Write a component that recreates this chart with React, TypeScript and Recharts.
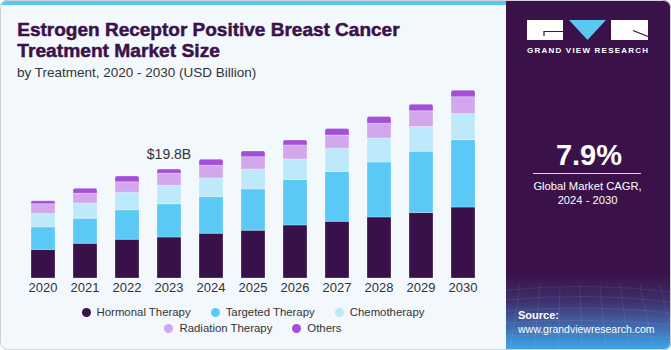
import React from 'react';
import { BarChart, Bar, XAxis, YAxis, Legend, LabelList } from 'recharts';

const years = ['2020', '2021', '2022', '2023', '2024', '2025', '2026', '2027', '2028', '2029', '2030'];
const hormonal = [5.2, 6.3, 7.05, 7.45, 8.15, 8.7, 9.65, 10.3, 11.1, 11.9, 12.9];
const targeted = [4.1, 4.55, 5.35, 6.05, 6.65, 7.5, 8.25, 9.05, 10.0, 11.15, 12.25];
const chemo = [2.45, 2.8, 3.2, 3.35, 3.4, 3.6, 3.75, 4.25, 4.35, 4.5, 4.75];
const radiation = [1.75, 1.75, 1.9, 2.2, 2.3, 2.25, 2.55, 2.4, 2.7, 2.85, 3.05];
const others = [0.55, 0.9, 1.05, 0.75, 1.1, 1.05, 0.9, 1.2, 1.2, 1.2, 1.2];
const valueLabels = ['', '', '', '$19.8B', '', '', '', '', '', '', ''];

const seriesNames = ['Hormonal Therapy', 'Targeted Therapy', 'Chemotherapy', 'Radiation Therapy', 'Others'];
const seriesKeys = ['hormonal', 'targeted', 'chemo', 'radiation', 'others'];
const colors = ['#38104a', '#5bc9f6', '#bde9fb', '#d3a7ec', '#a44fd9'];

const data = years.map((y, i) => ({
  year: y,
  hormonal: hormonal[i],
  targeted: targeted[i],
  chemo: chemo[i],
  radiation: radiation[i],
  others: others[i],
  label: valueLabels[i],
}));

const FONT = '"Liberation Sans", Arial, sans-serif';

const LegendItem = ({ idx }: { idx: number }) => (
  <span style={{ display: 'inline-flex', alignItems: 'center', margin: '0 10px' }}>
    <span
      style={{
        display: 'inline-block',
        width: 9,
        height: 9,
        borderRadius: '50%',
        background: colors[idx],
        marginRight: 6,
      }}
    />
    <span>{seriesNames[idx]}</span>
  </span>
);

const CustomLegend = () => (
  <div style={{ fontFamily: FONT, fontSize: 11.4, color: '#333', width: 506, textAlign: 'center' }}>
    <div style={{ height: 16, lineHeight: '16px', display: 'flex', justifyContent: 'center' }}>
      <LegendItem idx={0} />
      <LegendItem idx={1} />
      <LegendItem idx={2} />
    </div>
    <div style={{ height: 16, lineHeight: '16px', display: 'flex', justifyContent: 'center' }}>
      <LegendItem idx={3} />
      <LegendItem idx={4} />
    </div>
  </div>
);

export default function App() {
  return (
    <div
      style={{
        position: 'absolute',
        left: 0,
        top: 0,
        width: 671,
        height: 350,
        background: '#f3f8fc',
        borderRadius: 7,
        overflow: 'hidden',
        fontFamily: FONT,
      }}
    >
      <div style={{ position: 'absolute', left: 0, top: 0, width: 506, height: 5, background: '#5bc8f2' }} />
      <div
        style={{
          position: 'absolute',
          left: 506,
          top: 0,
          width: 165,
          height: 350,
          background:
            'linear-gradient(to bottom, #3a1249 0%, #3a1249 78%, #3d2f6c 86%, #4268aa 93%, #3aa8ea 100%)',
          borderTopRightRadius: 8,
        }}
      />
      <div style={{ position: 'absolute', left: 0, top: 0 }}>
        <BarChart width={506} height={350} data={data} margin={{ top: 80, right: 22, left: 22, bottom: 42 }}>
          <XAxis
            dataKey="year"
            axisLine={false}
            tickLine={false}
            tickSize={0}
            tickMargin={5}
            height={30}
            interval={0}
            tick={{ fill: '#333', fontSize: 13, fontFamily: FONT }}
          />
          <YAxis hide domain={[0, 36]} />
          <Legend
            layout="horizontal"
            verticalAlign="middle"
            wrapperStyle={{ top: 304, left: 0, width: 506 }}
            content={() => <CustomLegend />}
          />
          {seriesKeys.map((k, i) => (
            <Bar
              key={k}
              dataKey={k}
              name={seriesNames[i]}
              stackId="a"
              fill={colors[i]}
              barSize={24}
              stroke="#ffffff"
              strokeOpacity={0.35}
              strokeWidth={0.8}
              radius={i === 4 ? [2, 2, 0, 0] : 0}
              isAnimationActive={false}
            >
              {i === 4 ? (
                <LabelList dataKey="label" position="top" offset={10} fill="#333" fontSize={14} fontFamily={FONT} />
              ) : null}
            </Bar>
          ))}
        </BarChart>
      </div>
      <svg
        width={671}
        height={350}
        style={{ position: 'absolute', left: 0, top: 0, pointerEvents: 'none' }}
      >
        <g fontFamily={FONT}>
          <text x={17.3} y={36} fontSize={19} fontWeight={700} fill="#3a1249" stroke="#3a1249" strokeWidth={0.5}>
            Estrogen Receptor Positive Breast Cancer
          </text>
          <text x={17.3} y={56.7} fontSize={19.2} fontWeight={700} fill="#3a1249" stroke="#3a1249" strokeWidth={0.5}>
            Treatment Market Size
          </text>
          <text x={17} y={77.3} fontSize={13.5} fill="#333">
            by Treatment, 2020 - 2030 (USD Billion)
          </text>

          {/* logo */}
          <rect x={527} y={20} width={36} height={20} fill="#ffffff" />
          <polyline points="544,36 544,31.5 563,31.5" fill="none" stroke="#3a1249" strokeWidth={1.2} />
          <polygon points="569,20 606,20 587.5,40" fill="#5bc8f2" />
          <rect x={611} y={20} width={37} height={20} fill="#ffffff" />
          <line x1={633} y1={30.5} x2={648} y2={36.5} stroke="#3a1249" strokeWidth={1.2} />
          <text x={527} y={53.3} fontSize={8} fontWeight={700} fill="#ffffff" textLength={121} lengthAdjust="spacing">
            GRAND VIEW RESEARCH
          </text>

          <text x={589} y={165} fontSize={29} fontWeight={700} fill="#ffffff" textAnchor="middle">
            7.9%
          </text>
          <line x1={533} y1={173.5} x2={641} y2={173.5} stroke="#d9d0e2" strokeWidth={1} />
          <text x={587.5} y={189.7} fontSize={11.2} fill="#ffffff" textAnchor="middle">
            Global Market CAGR,
          </text>
          <text x={587.5} y={204} fontSize={11.2} fill="#ffffff" textAnchor="middle">
            2024 - 2030
          </text>

          {/* mesh */}
          <g stroke="#ffffff" strokeOpacity={0.12} strokeWidth={0.7} fill="none">
            <path d="M506 290 Q590 282 671 292" />
            <path d="M506 300 Q590 292 671 302" />
            <path d="M506 311 Q590 304 671 313" />
            <path d="M506 323 Q590 317 671 325" />
            <path d="M506 336 Q590 331 671 338" />
            <line x1={520} y1={285} x2={510} y2={350} />
            <line x1={540} y1={285} x2={534} y2={350} />
            <line x1={560} y1={285} x2={558} y2={350} />
            <line x1={580} y1={285} x2={582} y2={350} />
            <line x1={600} y1={285} x2={606} y2={350} />
            <line x1={620} y1={285} x2={630} y2={350} />
            <line x1={640} y1={285} x2={654} y2={350} />
            <line x1={660} y1={285} x2={671} y2={330} />
          </g>

          <text x={518} y={319.3} fontSize={11} fontWeight={700} fill="#ffffff">
            Source:
          </text>
          <text x={518} y={333.3} fontSize={10.5} fill="#ffffff">
            www.grandviewresearch.com
          </text>
        </g>
        <rect x={0.5} y={0.5} width={670} height={349} rx={7} fill="none" stroke="#cfd3d8" strokeWidth={1} />
      </svg>
    </div>
  );
}
